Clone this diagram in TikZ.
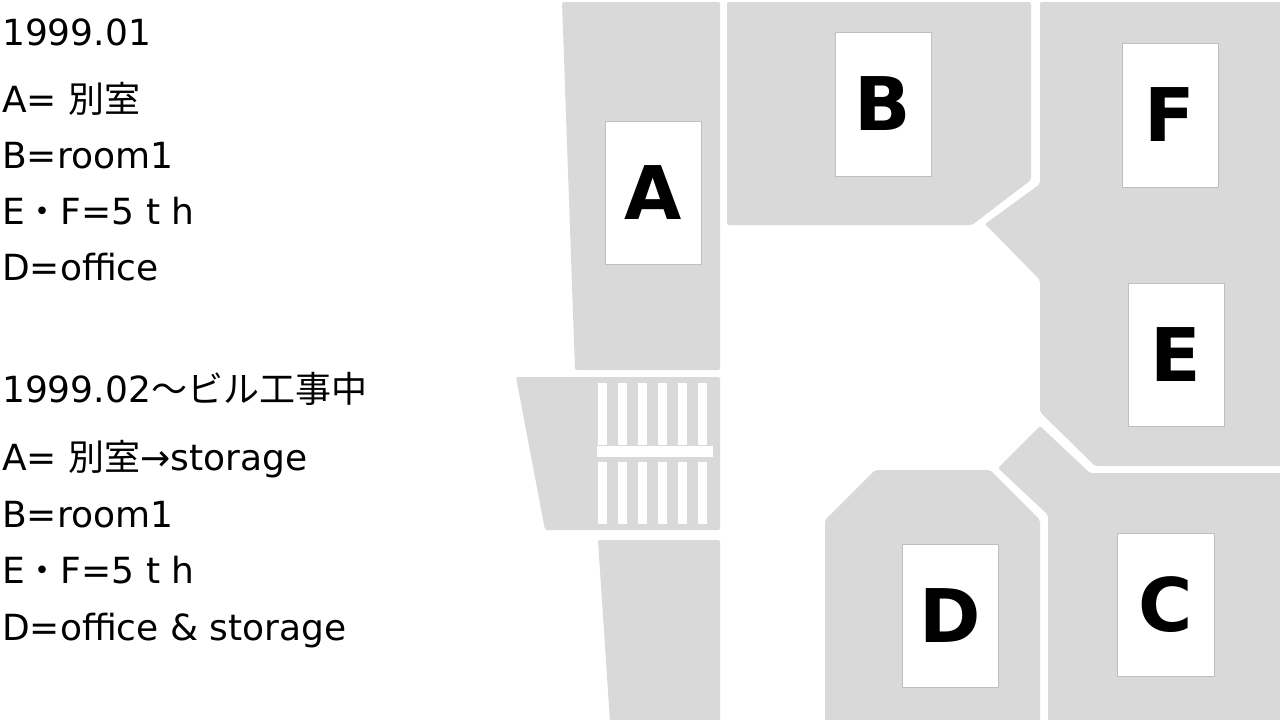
\documentclass[tikz,border=0pt]{standalone}
\usepackage{fontspec}
\setmainfont{DejaVu Sans}
\newfontfamily\cjk{Noto Sans CJK JP}
\definecolor{floorgray}{HTML}{D9D9D9}
\definecolor{boxline}{HTML}{BFBFBF}
\tikzset{
  room/.style={fill=floorgray, rounded corners=2pt},
  tag/.style={draw=boxline, fill=white, line width=0.8pt, font=\fontsize{74}{74}\selectfont\bfseries},
  note/.style={anchor=base west, inner sep=0pt, font=\fontsize{36}{36}\selectfont}
}
\begin{document}
\begin{tikzpicture}[x=1pt,y=-1pt]
  \useasboundingbox (0,0) rectangle (1280,720);

  % floor areas
  \fill[room] (562,2) -- (720,2) -- (720,370) -- (575,370) -- cycle;
  \fill[room] (516,377) -- (720,377) -- (720,530) -- (545,530) -- cycle;
  \fill[room] (598,540) -- (720,540) -- (720,722) -- (610,722) -- cycle;
  \fill[room] (727,2) -- (1031,2) -- (1031,180) -- (972,225) -- (727,225) -- cycle;
  \fill[room] (1040,2) -- (1282,2) -- (1282,466) -- (1095,466) -- (1040,412)
    -- (1040,280) -- (985,224) -- (1040,184) -- cycle;
  \fill[room] (998,468) -- (1040,426) -- (1090,473) -- (1282,473) -- (1282,722)
    -- (1048,722) -- (1048,515) -- cycle;
  \fill[room] (825,520) -- (875,470) -- (990,470) -- (1040,520) -- (1040,722) -- (825,722) -- cycle;

  % stairs
  \foreach \sx in {598,618,638,658,678,698} {
    \fill[white] (\sx,383) rectangle ++(9,62);
    \fill[white] (\sx,462) rectangle ++(9,62);
  }
  \fill[white] (597,446) rectangle (713,457);

  % room tags
  \node[tag, minimum width=96pt, minimum height=143pt] (tagA) at (653,193) {A};
  \node[tag, minimum width=96pt, minimum height=144pt] (tagB) at (883,104) {B};
  \node[tag, minimum width=96pt, minimum height=144pt] (tagF) at (1170,115) {F};
  \node[tag, minimum width=96pt, minimum height=143pt] (tagE) at (1176,355) {E};
  \node[tag, minimum width=96pt, minimum height=143pt] (tagD) at (950,616) {D};
  \node[tag, minimum width=97pt, minimum height=143pt] (tagC) at (1166,605) {C};

  % notes
  \node[note] (n1) at (2,45) {1999.01};
  \node[note] (n2) at (2,112) {A= {\cjk 別室}};
  \node[note] (n3) at (2,168) {B=room1};
  \node[note] (n4) at (2,224) {E{\cjk ・}F=5 t h};
  \node[note] (n5) at (2,280) {D=office};
  \node[note] (m1) at (2,402) {1999.02{\cjk ～ビル工事中}};
  \node[note] (m2) at (2,470) {A= {\cjk 別室}→storage};
  \node[note] (m3) at (2,527) {B=room1};
  \node[note] (m4) at (2,583) {E{\cjk ・}F=5 t h};
  \node[note] (m5) at (2,640) {D=office \& storage};
\end{tikzpicture}
\end{document}
